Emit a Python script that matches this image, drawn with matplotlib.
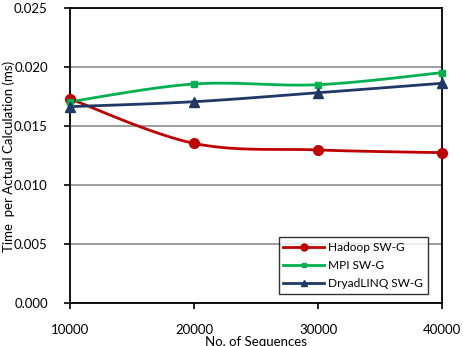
import numpy as np
import matplotlib
matplotlib.use("Agg")
import matplotlib.pyplot as plt
from matplotlib.lines import Line2D

plt.rcParams["font.family"] = ["Lato", "DejaVu Sans"]

sequences = [10000, 20000, 30000, 40000]
hadoop = [0.0173, 0.01353, 0.01297, 0.01274]
mpi = [0.01706, 0.01856, 0.01850, 0.01952]
dryad = [0.01664, 0.01706, 0.01782, 0.01862]

series = [
    ("Hadoop SW-G", hadoop, "#C00000", "o", 7),
    ("MPI SW-G", mpi, "#00B050", "s", 5),
    ("DryadLINQ SW-G", dryad, "#1F3864", "^", 6.5),
]

X_MIN, X_MAX = 10000, 40000
Y_MIN, Y_MAX = 0.0, 0.025
PX_W, PX_H = 372.0, 295.0


def smooth_path(xs, ys, steps=40):
    # Excel style smoothed line: bezier segments with catmull-rom handles,
    # computed in pixel-like space so the curve shape matches the screen.
    px = (np.asarray(xs, float) - X_MIN) / (X_MAX - X_MIN) * PX_W
    py = (np.asarray(ys, float) - Y_MIN) / (Y_MAX - Y_MIN) * PX_H
    pts = np.column_stack([px, py])
    n = len(pts)
    out = [pts[0]]
    t = np.linspace(0, 1, steps)[1:, None]
    for i in range(n - 1):
        p0 = pts[max(i - 1, 0)]
        p1 = pts[i]
        p2 = pts[i + 1]
        p3 = pts[min(i + 2, n - 1)]
        c1 = p1 + (p2 - p0) / 6.0
        c2 = p2 - (p3 - p1) / 6.0
        seg = ((1 - t) ** 3) * p1 + 3 * ((1 - t) ** 2) * t * c1 + 3 * (1 - t) * t ** 2 * c2 + t ** 3 * p2
        out.extend(seg)
    out = np.array(out)
    sx = out[:, 0] / PX_W * (X_MAX - X_MIN) + X_MIN
    sy = out[:, 1] / PX_H * (Y_MAX - Y_MIN) + Y_MIN
    return sx, sy


fig = plt.figure(figsize=(4.64, 3.46), dpi=100)
ax = fig.add_axes([70 / 464, 43 / 346, 372 / 464, 295 / 346])

handles = []
for label, values, color, marker, size in series:
    sx, sy = smooth_path(sequences, values)
    ax.plot(sx, sy, color=color, linewidth=2.0, solid_capstyle="round", zorder=3)
    ax.plot(sequences, values, linestyle="none", marker=marker, markersize=size,
            color=color, zorder=4, clip_on=False)
    handles.append(Line2D([], [], color=color, linewidth=2.0, marker=marker,
                          markersize=size - 2, label=label))

ax.set_xlim(X_MIN, X_MAX)
ax.set_ylim(Y_MIN, Y_MAX)
ax.set_xticks(sequences)
ax.set_xticklabels([str(s) for s in sequences])
yticks = np.arange(0, 0.0251, 0.005)
ax.set_yticks(yticks)
ax.set_yticklabels([f"{v:.3f}" for v in yticks])

ax.yaxis.grid(True, color="#8C8C8C", linewidth=1.2)
ax.set_axisbelow(True)
for spine in ax.spines.values():
    spine.set_color("black")
    spine.set_linewidth(1.3)

ax.tick_params(axis="y", direction="out", length=4, width=1.2, pad=12, labelsize=9.5)
ax.tick_params(axis="x", direction="out", length=4, width=1.2, pad=11, labelsize=9.5)

fig.text(9 / 464, 1 - 156 / 346, "Time  per Actual Calculation (ms)", rotation=90,
         ha="center", va="center", fontsize=9.5)
fig.text(256 / 464, 1 - 336 / 346, "No. of Sequences", ha="center", va="top",
         fontsize=9.5)

leg = ax.legend(handles=handles, loc="lower right", bbox_to_anchor=(0.962, 0.03),
                borderaxespad=0, fontsize=8.6, frameon=True, fancybox=False,
                handlelength=3.4, borderpad=0.4, labelspacing=0.6,
                handletextpad=0.35)
leg.get_frame().set_edgecolor("black")
leg.get_frame().set_linewidth(1.0)

fig.savefig("out.png", dpi=100)
